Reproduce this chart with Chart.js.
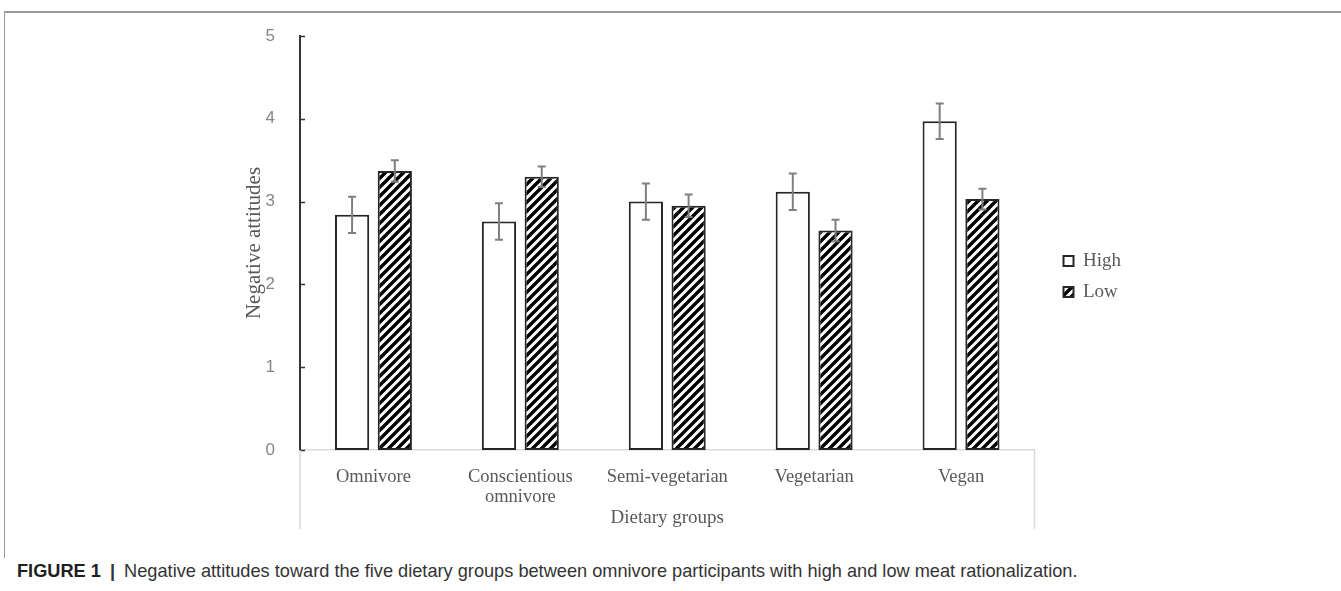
<!DOCTYPE html>
<html>
<head>
<meta charset="utf-8">
<script src="https://cdn.jsdelivr.net/npm/chart.js@4.4.1/dist/chart.umd.min.js"></script>
<style>
  html, body { margin: 0; padding: 0; background: #fff; }
  body { width: 1341px; height: 591px; position: relative; overflow: hidden; }
  #frame {
    position: absolute; left: 4px; top: 11px; width: 1345px; height: 545px;
    border-top: 2px solid #9a9a9a; border-left: 1px solid #9a9a9a;
  }
  #wrap { position: absolute; left: 0; top: 0; width: 1341px; height: 545px; }
  #caption {
    position: absolute; left: 17px; top: 561px; white-space: nowrap;
    font-family: "Liberation Sans", Arial, sans-serif; font-size: 18.2px; color: #333;
  }
  #caption b { color: #1f1f1f; }
  #caption .sep { padding: 0 4px; font-weight: bold; color: #333; }
</style>
</head>
<body>
<div id="frame"></div>
<div id="wrap"><canvas id="chart" width="1341" height="545"></canvas></div>
<div id="caption"><b>FIGURE 1</b> <span class="sep">|</span> Negative attitudes toward the five dietary groups between omnivore participants with high and low meat rationalization.</div>
<script>
// Dietary groups on the category axis
const categories = ['Omnivore', ['Conscientious', 'omnivore'], 'Semi-vegetarian', 'Vegetarian', 'Vegan'];
// Meat-rationalization groups
const seriesNames = ['High', 'Low'];
// Mean negative attitudes and their error half-widths
const highMeans  = [2.84, 2.76, 3.00, 3.12, 3.97];
const highErrors = [0.22, 0.22, 0.22, 0.22, 0.215];
const lowMeans   = [3.37, 3.30, 2.95, 2.65, 3.03];
const lowErrors  = [0.13, 0.125, 0.135, 0.13, 0.125];
// Value axis ticks
const yTicks = [0, 1, 2, 3, 4, 5];

const serif = '"Liberation Serif", "Times New Roman", serif';
const sans = '"Liberation Sans", Arial, sans-serif';

// Diagonal black-on-white hatching for the "Low" bars
function makeHatch() {
  const s = 9;
  const c = document.createElement('canvas');
  c.width = s; c.height = s;
  const g = c.getContext('2d');
  g.fillStyle = '#ffffff';
  g.fillRect(0, 0, s, s);
  g.strokeStyle = '#000000';
  g.lineWidth = 3.4;
  g.beginPath();
  g.moveTo(-2, s + 2); g.lineTo(s + 2, -2);
  g.moveTo(-2, 2); g.lineTo(2, -2);
  g.moveTo(s - 2, s + 2); g.lineTo(s + 2, s - 2);
  g.stroke();
  return g.createPattern(c, 'repeat');
}

// Error bars drawn from each dataset's `errors` array
const errorBars = {
  id: 'errorBars',
  afterDatasetsDraw(chart) {
    const ctx = chart.ctx;
    const y = chart.scales.y;
    ctx.save();
    ctx.strokeStyle = '#7f7f7f';
    ctx.lineWidth = 2;
    chart.data.datasets.forEach((ds, i) => {
      const meta = chart.getDatasetMeta(i);
      meta.data.forEach((bar, j) => {
        const m = ds.data[j], e = ds.errors[j];
        const x = bar.x;
        const top = y.getPixelForValue(m + e);
        const bot = y.getPixelForValue(m - e);
        const cap = 4;
        ctx.beginPath();
        ctx.moveTo(x, top); ctx.lineTo(x, bot);
        ctx.moveTo(x - cap, top); ctx.lineTo(x + cap, top);
        ctx.moveTo(x - cap, bot); ctx.lineTo(x + cap, bot);
        ctx.stroke();
      });
    });
    ctx.restore();
  }
};

// Inward tick marks on the value axis and the box around the category labels
const axisDecor = {
  id: 'axisDecor',
  afterDraw(chart) {
    const ctx = chart.ctx;
    const y = chart.scales.y, x = chart.scales.x;
    const area = chart.chartArea;
    ctx.save();
    ctx.strokeStyle = '#333333';
    ctx.lineWidth = 1.5;
    ctx.beginPath();
    y.ticks.forEach(t => {
      const py = Math.round(y.getPixelForValue(t.value)) + 0.5;
      ctx.moveTo(area.left, py);
      ctx.lineTo(area.left + 5, py);
    });
    ctx.stroke();
    ctx.strokeStyle = '#d9d9d9';
    ctx.lineWidth = 1.5;
    ctx.beginPath();
    ctx.moveTo(x.left, x.top); ctx.lineTo(x.left, x.bottom + 12);
    ctx.moveTo(x.right, x.top); ctx.lineTo(x.right, x.bottom + 12);
    ctx.stroke();
    ctx.restore();
  }
};

const hatch = makeHatch();

new Chart(document.getElementById('chart'), {
  type: 'bar',
  data: {
    labels: categories,
    datasets: [
      {
        label: seriesNames[0],
        data: highMeans,
        errors: highErrors,
        backgroundColor: '#ffffff',
        borderColor: '#262626',
        borderWidth: 2,
        borderSkipped: false,
        categoryPercentage: 0.582,
        barPercentage: 0.8
      },
      {
        label: seriesNames[1],
        data: lowMeans,
        errors: lowErrors,
        backgroundColor: hatch,
        borderColor: '#262626',
        borderWidth: 2,
        borderSkipped: false,
        categoryPercentage: 0.582,
        barPercentage: 0.8
      }
    ]
  },
  options: {
    responsive: false,
    devicePixelRatio: 1,
    animation: false,
    layout: { padding: { left: 240, top: 36, right: 210, bottom: 28 } },
    scales: {
      x: {
        grid: { display: false },
        border: { display: true, color: '#d9d9d9', width: 1.5 },
        ticks: {
          color: '#595959',
          font: { family: serif, size: 18.5, lineHeight: 1.1 },
          padding: 9,
          maxRotation: 0,
          autoSkip: false
        },
        title: {
          display: true,
          text: 'Dietary groups',
          color: '#595959',
          font: { family: serif, size: 19 },
          padding: { top: 0, bottom: -12.4 }
        },
        afterFit(s) { s.height = 67; }
      },
      y: {
        min: 0,
        max: 5,
        afterBuildTicks(s) { s.ticks = yTicks.map(v => ({ value: v })); },
        grid: { display: false },
        border: { display: true, color: '#333333', width: 2 },
        ticks: {
          color: '#868686',
          font: { family: sans, size: 17 },
          padding: 17
        },
        title: {
          display: true,
          text: 'Negative attitudes',
          color: '#595959',
          font: { family: serif, size: 21 },
          padding: { top: 2, bottom: 0 }
        },
        afterFit(s) { s.width = 60; }
      },
      gap: {
        type: 'linear',
        position: 'right',
        display: true,
        grid: { display: false },
        border: { display: false },
        ticks: { display: false },
        afterFit(s) { s.width = 17; }
      }
    },
    plugins: {
      legend: {
        position: 'right',
        align: 'center',
        labels: {
          boxWidth: 10,
          boxHeight: 10,
          padding: 12,
          color: '#595959',
          font: { family: serif, size: 19 }
        }
      },
      tooltip: { enabled: false }
    }
  },
  plugins: [errorBars, axisDecor]
});
</script>
</body>
</html>
